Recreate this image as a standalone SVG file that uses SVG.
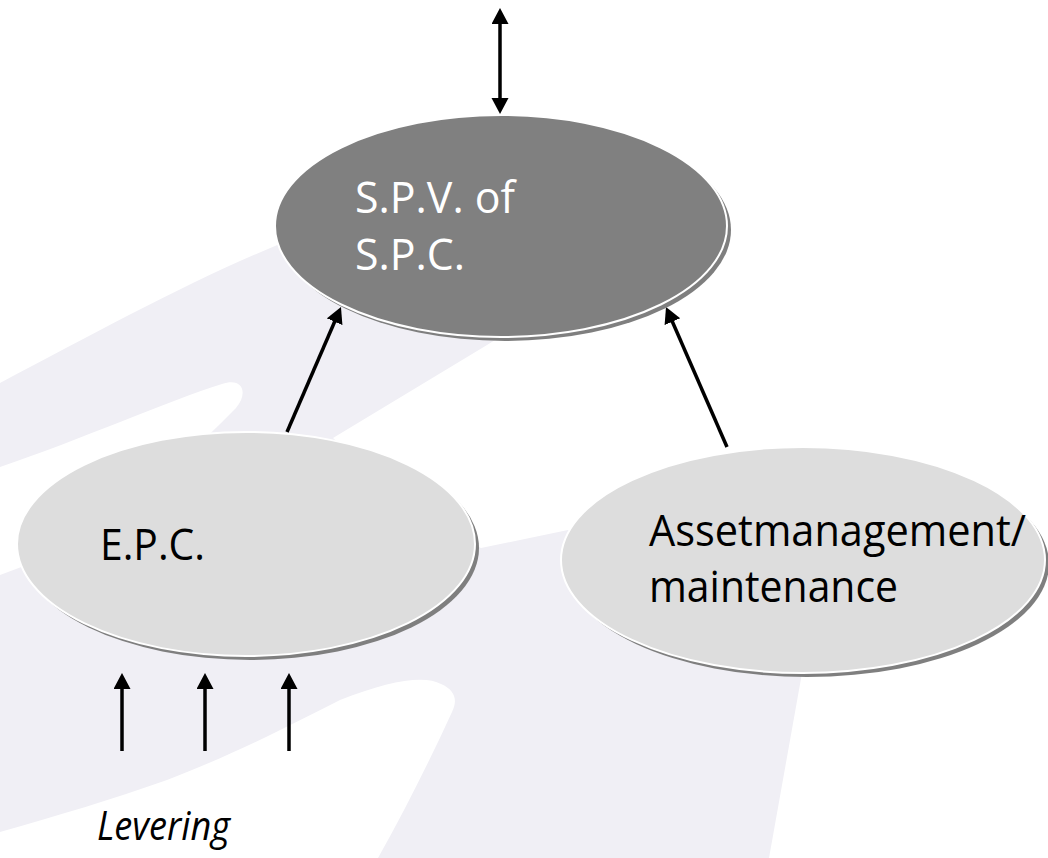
<svg xmlns="http://www.w3.org/2000/svg" width="1048" height="858" viewBox="0 0 1048 858">
  <style>
    .shadow { fill: #7f7f7f; }
    .node-dark { fill: #808080; stroke: #ffffff; stroke-width: 2; }
    .node-light { fill: #dddddd; stroke: #ffffff; stroke-width: 2; }
    .label { font-family: "Open Sans", "Liberation Sans", sans-serif; font-size: 43px; }
    .conn { stroke: #000000; stroke-width: 3.5; fill: none; }
    .bg { fill: #f0eff5; }
  </style>
  <defs>
    <marker id="head" markerUnits="userSpaceOnUse" markerWidth="18" markerHeight="18" viewBox="0 0 18 18" refX="6" refY="8.5" orient="auto-start-reverse">
      <path d="M0,0 L16,8.5 L0,17 Z" fill="#000000"/>
    </marker>
  </defs>

  <g id="background">
    <rect x="0" y="0" width="1048" height="858" fill="#ffffff"/>
    <path class="bg" d="M0,383 C110,325 210,270 310,232 L560,300 L487,345 L333,438 L420,520 L481,548 L568,530 L700,520 L802,673 L769,858 L0,858 Z"/>
    <path fill="#ffffff" d="M0,467 C80,440 170,400 222,384 C244,377 248,394 236,408 C190,455 150,490 100,530 L40,560 L0,575 Z"/>
    <path fill="#ffffff" d="M0,832 C60,815 110,800 167,780 C240,752 300,720 340,700 C390,680 425,675 441,684 C455,690 458,700 452,712 C430,760 405,810 378,858 L0,858 Z"/>
  </g>

  <g id="connectors">
    <line class="conn" x1="500" y1="18" x2="500" y2="104" marker-start="url(#head)" marker-end="url(#head)"/>
    <line class="conn" x1="287" y1="432" x2="337" y2="316.2" marker-end="url(#head)"/>
    <line class="conn" x1="727" y1="447" x2="670" y2="316.2" marker-end="url(#head)"/>
    <line class="conn" x1="122" y1="751" x2="122" y2="683" marker-end="url(#head)"/>
    <line class="conn" x1="205" y1="751" x2="205" y2="683" marker-end="url(#head)"/>
    <line class="conn" x1="289" y1="751" x2="289" y2="683" marker-end="url(#head)"/>
  </g>

  <g id="node-spv">
    <ellipse class="shadow" cx="505" cy="230" rx="226" ry="111"/>
    <ellipse class="node-dark" cx="501" cy="226" rx="226" ry="111"/>
    <text class="label" fill="#ffffff" x="355" y="213" textLength="160" lengthAdjust="spacingAndGlyphs">S.P.V. of</text>
    <text class="label" fill="#ffffff" x="355" y="270" textLength="110" lengthAdjust="spacingAndGlyphs">S.P.C.</text>
  </g>

  <g id="node-epc">
    <ellipse class="shadow" cx="250" cy="548" rx="229" ry="112"/>
    <ellipse class="node-light" cx="246" cy="544" rx="229" ry="112"/>
    <text class="label" fill="#000000" x="100" y="560" textLength="105" lengthAdjust="spacingAndGlyphs">E.P.C.</text>
  </g>

  <g id="node-asset">
    <ellipse class="shadow" cx="807" cy="564" rx="242" ry="113"/>
    <ellipse class="node-light" cx="803" cy="560" rx="242" ry="113"/>
    <text class="label" fill="#000000" x="649" y="546" textLength="377" lengthAdjust="spacingAndGlyphs">Assetmanagement/</text>
    <text class="label" fill="#000000" x="649" y="602" textLength="249" lengthAdjust="spacingAndGlyphs">maintenance</text>
  </g>

  <g id="label-levering">
    <text x="97" y="840" font-family="Open Sans, Liberation Sans, sans-serif" font-size="41" font-style="italic" fill="#000000" textLength="133" lengthAdjust="spacingAndGlyphs">Levering</text>
  </g>
</svg>
